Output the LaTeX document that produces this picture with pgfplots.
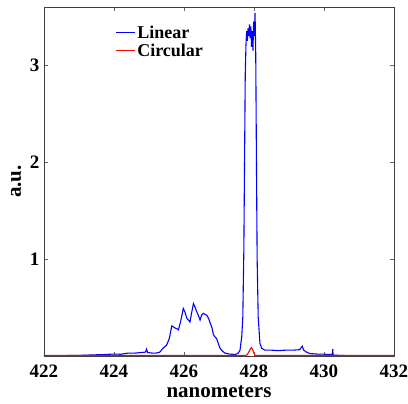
\documentclass[border=0pt]{standalone}
\usepackage{pgfplots}
\pgfplotsset{compat=1.18}
\usepackage{fontspec}
\setmainfont{Liberation Serif}
\begin{document}
\begin{tikzpicture}
\begin{axis}[
  scale only axis, width=350pt, height=349pt,
  xmin=422, xmax=432, ymin=0, ymax=3.6,
  xtick={422,424,...,432}, ytick={1,2,3},
  tick align=inside, major tick length=4pt,
  axis line style={black!75, line width=0.6pt},
  tick style={black!60, line width=0.6pt},
  ticklabel style={font=\fontsize{19}{22}\selectfont\bfseries},
  xticklabel style={yshift=-5pt},
  yticklabel style={xshift=-1pt},
  /pgf/number format/assume math mode=true,
  /pgf/number format/1000 sep={},
  xlabel={nanometers}, ylabel={a.u.},
  every axis x label/.style={at={(axis description cs:0.5,-0.119)}, anchor=base,
    font=\fontsize{21}{24}\selectfont\bfseries},
  every axis y label/.style={at={(axis description cs:-0.08,0.5)}, rotate=90, anchor=center,
    font=\fontsize{21}{24}\selectfont\bfseries},
  legend style={draw=none, fill=none, at={(0.2,0.955)}, anchor=north west,
    font=\fontsize{18}{20}\selectfont\bfseries, row sep=0pt,
    inner sep=1pt},
  legend cell align=left,
  legend image code/.code={\draw[#1] (0pt,0pt) -- (19pt,0pt);},
]
\addplot[color=blue, line width=1.1pt] coordinates {
(422.0,0.003) (422.5,0.004) (423.0,0.006) (423.3,0.01) (423.7,0.015) (424.0,0.02)
(424.2,0.018) (424.4,0.03) (424.6,0.03) (424.75,0.035) (424.9,0.04) (424.93,0.07)
(424.96,0.035) (425.1,0.03) (425.2,0.03) (425.31,0.04) (425.4,0.08) (425.5,0.11)
(425.58,0.18) (425.65,0.31) (425.7,0.30) (425.74,0.29) (425.8,0.28) (425.84,0.27)
(425.9,0.35) (425.98,0.49) (426.03,0.45) (426.08,0.39) (426.13,0.37) (426.17,0.35)
(426.22,0.45) (426.27,0.54) (426.32,0.50) (426.36,0.46) (426.41,0.42) (426.46,0.37)
(426.5,0.42) (426.55,0.44) (426.6,0.43) (426.65,0.42) (426.7,0.39) (426.74,0.35)
(426.8,0.29) (426.84,0.22) (426.88,0.20) (426.93,0.18) (426.98,0.13) (427.03,0.08)
(427.1,0.05) (427.17,0.03) (427.3,0.02) (427.46,0.015) (427.55,0.03) (427.6,0.06)
(427.65,0.2) (427.68,0.4) (427.71,1.09) (427.73,2.0) (427.75,2.9) (427.77,3.2)
(427.79,3.35) (427.81,3.25) (427.83,3.38) (427.85,3.30) (427.87,3.42) (427.89,3.28)
(427.91,3.40) (427.93,3.19) (427.95,3.35) (427.97,3.15) (427.99,3.45) (428.01,3.30)
(428.03,3.54) (428.05,3.1) (428.07,2.0) (428.09,1.0) (428.12,0.4) (428.17,0.13)
(428.22,0.08) (428.31,0.06) (428.5,0.06) (428.7,0.055) (428.9,0.06) (429.1,0.06)
(429.3,0.065) (429.38,0.1) (429.42,0.06) (429.5,0.04) (429.6,0.025) (429.8,0.02)
(429.97,0.02) (430.1,0.015) (430.24,0.015) (430.25,0.07) (430.26,0.01) (430.5,0.005)
(431,0.003) (432,0.003)
};
\addlegendentry{Linear}
\addplot[color=red, line width=1.1pt] coordinates {
(422,0.005) (427.75,0.005) (427.8,0.01) (427.85,0.04) (427.9,0.075) (427.93,0.085)
(427.97,0.06) (428.0,0.03) (428.03,0.008) (428.06,0.005) (432,0.005)
};
\addlegendentry{Circular}
\end{axis}
\pgfresetboundingbox
\path (current axis.south west) ++(-44pt,-48pt) rectangle ([shift={(14pt,7pt)}]current axis.north east);
\end{tikzpicture}
\end{document}
